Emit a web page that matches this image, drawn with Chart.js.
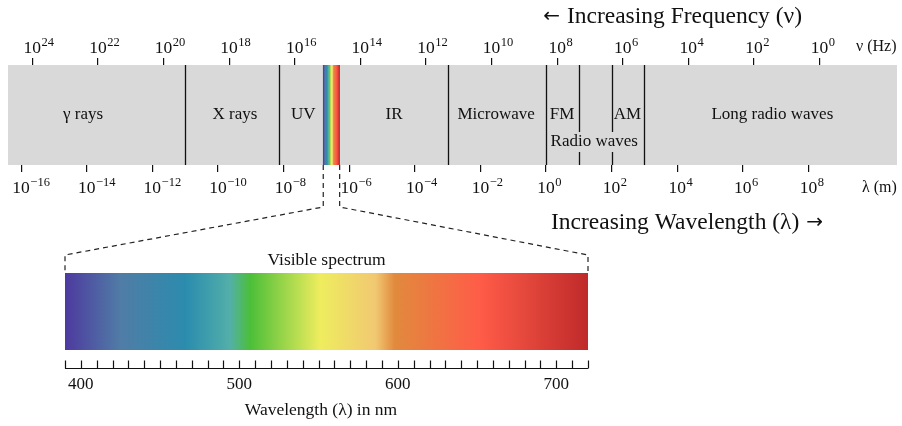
<!DOCTYPE html>
<html>
<head>
<meta charset="utf-8">
<script src="https://cdn.jsdelivr.net/npm/chart.js@4/dist/chart.umd.min.js"></script>
<style>
  html, body { margin: 0; padding: 0; background: #ffffff; }
  #wrap { position: relative; width: 902px; height: 426px; }
  #wrap canvas { position: absolute; left: 0; top: 0; }
</style>
</head>
<body>
<div id="wrap">
  <canvas id="spectrum" width="902" height="426"></canvas>
  <canvas id="visible" width="902" height="426"></canvas>
</div>
<script>
// ---- spectrum band: log10 of wavelength in metres ----
const lambdaRange = [-16.4, 10.7];
// log10(frequency / Hz) = freqOffset - log10(wavelength / m)
const freqOffset = 8.34;
const lambdaTicks = [-16, -14, -12, -10, -8, -6, -4, -2, 0, 2, 4, 6, 8];
const freqTicks = [24, 22, 20, 18, 16, 14, 12, 10, 8, 6, 4, 2, 0];

// boundaries between the named regions (log10 wavelength)
const regionBounds = [-11, -8.14, -3, 0, 1, 2, 3];
const regionNames = ['γ rays', 'X rays', 'UV', 'IR', 'Microwave', 'FM', 'AM', 'Long radio waves'];
const regionLabelAt = [-14.11, -9.48, -7.40, -4.63, -1.52, 0.49, 2.48, 6.90];
const radioName = 'Radio waves';
const radioLabelAt = 1.47;
const visibleBand = [-6.79, -6.29];

// ---- visible spectrum, wavelength in nm ----
const nmRange = [390, 720];
const nmLabels = [400, 500, 600, 700];
const nmStops = [390, 425, 466, 494, 507, 551, 586, 598, 652, 720];
const nmColors = ['#4d3a9f', '#507ca6', '#2b8cae', '#52afa9', '#4cbf38',
                  '#eeed5e', '#f1c872', '#e18a3d', '#ff5c48', '#bf2a2a'];

const SERIF = '"Liberation Serif", "Times New Roman", serif';
const ARROW_FONT = '"DejaVu Sans", sans-serif';
const BAND_GRAY = '#d9d9d9';

function rainbow(ctx, x0, x1) {
  const g = ctx.createLinearGradient(x0, 0, x1, 0);
  const span = nmRange[1] - nmRange[0];
  nmStops.forEach((nm, i) => g.addColorStop((nm - nmRange[0]) / span, nmColors[i]));
  return g;
}

// draws "10" centred on x with a raised exponent
function powerLabel(ctx, x, yBase, exp) {
  const expText = String(exp).replace('-', '\u2212');
  ctx.font = '17.5px ' + SERIF;
  const w = ctx.measureText('10').width;
  ctx.textAlign = 'left';
  ctx.textBaseline = 'alphabetic';
  ctx.fillText('10', x - w / 2, yBase);
  ctx.font = '12.5px ' + SERIF;
  ctx.fillText(expText, x + w / 2 + 0.5, yBase - 7.5);
}

// caption with an arrow drawn in a font that has a long arrow glyph
function caption(ctx, text, arrow, textLeft, textRight, yBase, arrowFirst) {
  ctx.textBaseline = 'alphabetic';
  ctx.font = '23.5px ' + SERIF;
  const tw = ctx.measureText(text).width;
  const tx = arrowFirst ? textRight - tw : textLeft;
  ctx.textAlign = 'left';
  ctx.fillText(text, tx, yBase);
  ctx.font = '20px ' + ARROW_FONT;
  const aw = ctx.measureText(arrow).width;
  const ax = arrowFirst ? tx - 7 - aw : tx + tw + 7;
  ctx.fillText(arrow, ax, yBase - 1);
}

const spectrumDecor = {
  id: 'spectrumDecor',
  afterDatasetsDraw(chart) {
    const { ctx, chartArea: a, scales } = chart;
    ctx.save();
    ctx.strokeStyle = '#111';
    ctx.lineWidth = 1.3;
    regionBounds.forEach(v => {
      const x = Math.round(scales.x.getPixelForValue(v)) + 0.5;
      ctx.beginPath();
      ctx.moveTo(x, a.top);
      ctx.lineTo(x, a.bottom);
      ctx.stroke();
    });
    ctx.restore();
  },
  afterDraw(chart) {
    const { ctx, chartArea: a, scales } = chart;
    ctx.save();
    ctx.fillStyle = '#111';
    const midY = (a.top + a.bottom) / 2;

    // region names
    ctx.font = '17px ' + SERIF;
    ctx.textAlign = 'center';
    ctx.textBaseline = 'middle';
    regionNames.forEach((name, i) => {
      ctx.fillText(name, scales.x.getPixelForValue(regionLabelAt[i]), midY);
    });

    // radio waves label sits on a patch of band colour over the FM/AM dividers
    const rx = scales.x.getPixelForValue(radioLabelAt);
    const ry = midY + 27;
    const rw = ctx.measureText(radioName).width;
    ctx.fillStyle = BAND_GRAY;
    ctx.fillRect(rx - rw / 2 - 2, ry - 10, rw + 4, 20);
    ctx.fillStyle = '#111';
    ctx.fillText(radioName, rx, ry);

    // tick labels as powers of ten
    scales.xf.ticks.forEach(t => powerLabel(ctx, scales.xf.getPixelForValue(t.value), 53, t.value));
    scales.x.ticks.forEach(t => powerLabel(ctx, scales.x.getPixelForValue(t.value), 193, t.value));

    // axis units
    ctx.font = '16px ' + SERIF;
    ctx.textAlign = 'left';
    ctx.textBaseline = 'alphabetic';
    ctx.fillText('\u03bd (Hz)', 856, 51);
    ctx.fillText('\u03bb (m)', 862, 192);

    // direction captions
    caption(ctx, 'Increasing Frequency (\u03bd)', '\u2190', 0, 802, 23, true);
    caption(ctx, 'Increasing Wavelength (\u03bb)', '\u2192', 551, 0, 229, false);
    ctx.restore();
  }
};

const spectrumChart = new Chart(document.getElementById('spectrum'), {
  type: 'bar',
  data: {
    labels: ['spectrum'],
    datasets: [
      {
        label: 'band',
        data: [lambdaRange],
        backgroundColor: BAND_GRAY,
        borderWidth: 0,
        grouped: false,
        barPercentage: 1,
        categoryPercentage: 1,
        order: 2
      },
      {
        label: 'visible',
        data: [visibleBand],
        backgroundColor: (c) => {
          const ch = c.chart;
          if (!ch.chartArea) return '#888';
          const xs = ch.scales.x;
          return rainbow(ch.ctx, xs.getPixelForValue(visibleBand[0]), xs.getPixelForValue(visibleBand[1]));
        },
        borderWidth: 0,
        grouped: false,
        barPercentage: 1,
        categoryPercentage: 1,
        order: 1
      }
    ]
  },
  options: {
    indexAxis: 'y',
    responsive: false,
    animation: false,
    events: [],
    layout: { padding: { left: 8, right: 5, top: 55, bottom: 251 } },
    plugins: { legend: { display: false }, tooltip: { enabled: false }, title: { display: false } },
    scales: {
      y: { type: 'category', display: false },
      x: {
        type: 'linear',
        position: 'bottom',
        min: lambdaRange[0],
        max: lambdaRange[1],
        afterBuildTicks: (s) => { s.ticks = lambdaTicks.map(v => ({ value: v })); },
        afterFit: (s) => { s.height = 10; },
        ticks: { display: false },
        border: { display: false },
        grid: { drawOnChartArea: false, drawTicks: true, tickLength: 7, color: '#111', lineWidth: 1.2 }
      },
      xf: {
        type: 'linear',
        position: 'top',
        reverse: true,
        min: freqOffset - lambdaRange[1],
        max: freqOffset - lambdaRange[0],
        afterBuildTicks: (s) => { s.ticks = freqTicks.map(v => ({ value: v })); },
        afterFit: (s) => { s.height = 10; },
        ticks: { display: false },
        border: { display: false },
        grid: { drawOnChartArea: false, drawTicks: true, tickLength: 7, color: '#111', lineWidth: 1.2 }
      }
    }
  },
  plugins: [spectrumDecor]
});

const visibleDecor = {
  id: 'visibleDecor',
  afterDraw(chart) {
    const { ctx, chartArea: a, scales } = chart;
    const xs = scales.x;
    ctx.save();

    // dashed connectors from the visible strip of the band to this bar
    const top = spectrumChart.chartArea;
    const sx = spectrumChart.scales.x;
    const left = [sx.getPixelForValue(visibleBand[0]), xs.getPixelForValue(nmRange[0])];
    const right = [sx.getPixelForValue(visibleBand[1]), xs.getPixelForValue(nmRange[1])];
    ctx.strokeStyle = '#222';
    ctx.lineWidth = 1.2;
    ctx.setLineDash([5, 4]);
    [left, right].forEach(([x0, x1]) => {
      ctx.beginPath();
      ctx.moveTo(x0, top.bottom);
      ctx.lineTo(x0, top.bottom + 42);
      ctx.lineTo(x1, a.top - 18);
      ctx.lineTo(x1, a.top);
      ctx.stroke();
    });
    ctx.setLineDash([]);

    // ruler under the bar
    const ry = a.bottom + 18.5;
    ctx.strokeStyle = '#111';
    ctx.lineWidth = 1.2;
    ctx.beginPath();
    ctx.moveTo(xs.getPixelForValue(nmRange[0]), ry);
    ctx.lineTo(xs.getPixelForValue(nmRange[1]), ry);
    xs.ticks.forEach(t => {
      const x = Math.round(xs.getPixelForValue(t.value)) + 0.5;
      ctx.moveTo(x, ry);
      ctx.lineTo(x, ry - 8);
    });
    ctx.stroke();

    ctx.fillStyle = '#111';
    ctx.font = '17px ' + SERIF;
    ctx.textAlign = 'center';
    ctx.textBaseline = 'middle';
    nmLabels.forEach(v => ctx.fillText(String(v), xs.getPixelForValue(v), ry + 16));
    ctx.font = '17.5px ' + SERIF;
    ctx.fillText('Wavelength (\u03bb) in nm', 321, 410);
    ctx.fillText('Visible spectrum', (a.left + a.right) / 2, a.top - 13);
    ctx.restore();
  }
};

new Chart(document.getElementById('visible'), {
  type: 'bar',
  data: {
    labels: ['visible'],
    datasets: [{
      label: 'visible spectrum',
      data: [nmRange],
      backgroundColor: (c) => {
        const ch = c.chart;
        if (!ch.chartArea) return '#888';
        const xs = ch.scales.x;
        return rainbow(ch.ctx, xs.getPixelForValue(nmRange[0]), xs.getPixelForValue(nmRange[1]));
      },
      borderWidth: 0,
      barPercentage: 1,
      categoryPercentage: 1
    }]
  },
  options: {
    indexAxis: 'y',
    responsive: false,
    animation: false,
    events: [],
    layout: { padding: { left: 65, right: 314, top: 273, bottom: 76 } },
    plugins: { legend: { display: false }, tooltip: { enabled: false }, title: { display: false } },
    scales: {
      y: { type: 'category', display: false },
      x: {
        type: 'linear',
        position: 'bottom',
        min: nmRange[0],
        max: nmRange[1],
        ticks: { display: false, stepSize: 10 },
        afterFit: (s) => { s.height = 0; },
        border: { display: false },
        grid: { display: false }
      }
    }
  },
  plugins: [visibleDecor]
});
</script>
</body>
</html>
